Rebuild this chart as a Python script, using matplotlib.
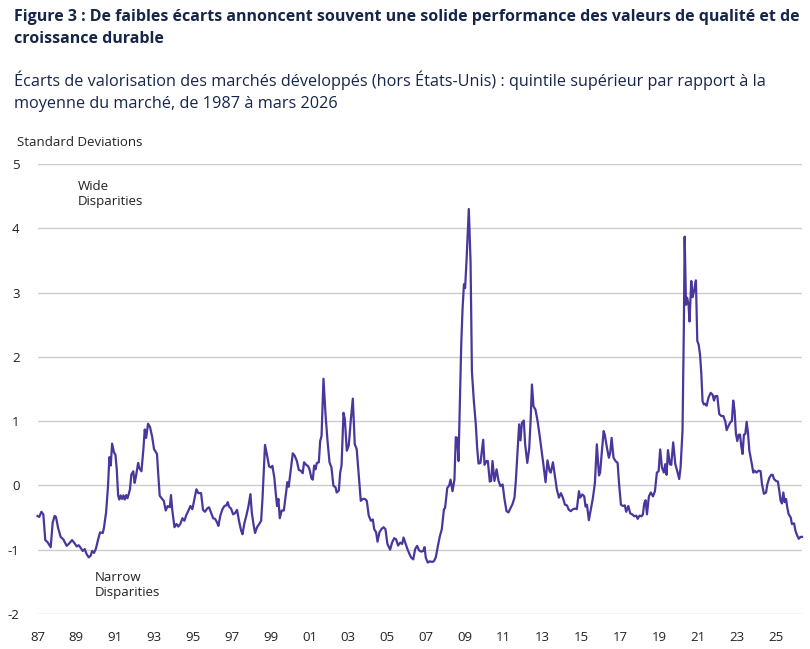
import matplotlib
matplotlib.use("Agg")
import matplotlib.pyplot as plt

plt.rcParams['font.family'] = ['Open Sans', 'DejaVu Sans']

# ---------- DATA -----------------------------------------------------------------------
# decimal year of each observation
years = [
    1987.00, 1987.09, 1987.20, 1987.30, 1987.40, 1987.51, 1987.68, 1987.78, 1987.88, 1987.95,
    1988.06, 1988.19, 1988.33, 1988.40, 1988.50, 1988.64, 1988.78, 1988.91, 1989.02, 1989.12,
    1989.22, 1989.33, 1989.43, 1989.53, 1989.64, 1989.74, 1989.81, 1989.91, 1990.01, 1990.12,
    1990.22, 1990.36, 1990.42, 1990.53, 1990.63, 1990.70, 1990.77, 1990.84, 1990.94, 1991.01,
    1991.08, 1991.15, 1991.21, 1991.28, 1991.35, 1991.42, 1991.49, 1991.56, 1991.63, 1991.69,
    1991.76, 1991.83, 1991.93, 1992.00, 1992.07, 1992.18, 1992.24, 1992.35, 1992.45, 1992.52,
    1992.59, 1992.69, 1992.79, 1992.90, 1993.00, 1993.05, 1993.15, 1993.22, 1993.29, 1993.39,
    1993.50, 1993.60, 1993.70, 1993.81, 1993.87, 1993.94, 1994.05, 1994.15, 1994.25, 1994.35,
    1994.46, 1994.56, 1994.66, 1994.77, 1994.87, 1994.97, 1995.08, 1995.18, 1995.28, 1995.42,
    1995.52, 1995.62, 1995.73, 1995.83, 1995.93, 1996.04, 1996.14, 1996.24, 1996.31, 1996.41,
    1996.52, 1996.62, 1996.72, 1996.79, 1996.86, 1996.96, 1997.07, 1997.17, 1997.27, 1997.38,
    1997.48, 1997.55, 1997.65, 1997.75, 1997.86, 1997.96, 1998.03, 1998.13, 1998.20, 1998.30,
    1998.41, 1998.51, 1998.58, 1998.65, 1998.71, 1998.82, 1998.92, 1999.02, 1999.09, 1999.19,
    1999.26, 1999.33, 1999.40, 1999.47, 1999.57, 1999.68, 1999.76, 1999.86, 1999.93, 2000.04,
    2000.14, 2000.24, 2000.35, 2000.45, 2000.55, 2000.65, 2000.72, 2000.83, 2000.93, 2001.00,
    2001.10, 2001.17, 2001.24, 2001.31, 2001.38, 2001.48, 2001.55, 2001.62, 2001.72, 2001.82,
    2001.92, 2002.03, 2002.13, 2002.23, 2002.34, 2002.40, 2002.51, 2002.58, 2002.65, 2002.75,
    2002.82, 2002.92, 2003.02, 2003.13, 2003.23, 2003.33, 2003.43, 2003.54, 2003.64, 2003.74,
    2003.85, 2003.95, 2004.05, 2004.16, 2004.26, 2004.33, 2004.43, 2004.50, 2004.60, 2004.70,
    2004.81, 2004.91, 2005.01, 2005.15, 2005.25, 2005.36, 2005.46, 2005.56, 2005.67, 2005.77,
    2005.84, 2005.94, 2006.04, 2006.15, 2006.23, 2006.34, 2006.44, 2006.54, 2006.64, 2006.75,
    2006.85, 2006.92, 2006.99, 2007.09, 2007.19, 2007.30, 2007.40, 2007.50, 2007.61, 2007.71,
    2007.81, 2007.92, 2007.98, 2008.09, 2008.19, 2008.26, 2008.36, 2008.46, 2008.53, 2008.60,
    2008.67, 2008.74, 2008.81, 2008.88, 2008.95, 2009.01, 2009.08, 2009.15, 2009.20, 2009.29,
    2009.36, 2009.46, 2009.56, 2009.63, 2009.70, 2009.80, 2009.87, 2009.94, 2010.01, 2010.11,
    2010.18, 2010.28, 2010.35, 2010.42, 2010.52, 2010.63, 2010.73, 2010.83, 2010.94, 2011.04,
    2011.14, 2011.24, 2011.35, 2011.45, 2011.55, 2011.62, 2011.73, 2011.79, 2011.86, 2011.93,
    2012.03, 2012.10, 2012.21, 2012.31, 2012.38, 2012.45, 2012.53, 2012.63, 2012.74, 2012.84,
    2012.94, 2013.05, 2013.15, 2013.25, 2013.36, 2013.42, 2013.53, 2013.63, 2013.73, 2013.84,
    2013.94, 2014.04, 2014.15, 2014.25, 2014.35, 2014.45, 2014.56, 2014.66, 2014.76, 2014.87,
    2014.93, 2015.04, 2015.14, 2015.21, 2015.28, 2015.38, 2015.48, 2015.59, 2015.69, 2015.79,
    2015.90, 2015.96, 2016.03, 2016.14, 2016.20, 2016.31, 2016.41, 2016.48, 2016.55, 2016.65,
    2016.75, 2016.86, 2016.93, 2017.03, 2017.13, 2017.23, 2017.30, 2017.41, 2017.51, 2017.61,
    2017.72, 2017.82, 2017.89, 2017.99, 2018.09, 2018.16, 2018.23, 2018.30, 2018.37, 2018.47,
    2018.57, 2018.68, 2018.78, 2018.88, 2018.97, 2019.05, 2019.14, 2019.24, 2019.31, 2019.38,
    2019.45, 2019.55, 2019.62, 2019.72, 2019.83, 2019.93, 2020.03, 2020.10, 2020.20, 2020.27,
    2020.31, 2020.38, 2020.44, 2020.51, 2020.56, 2020.65, 2020.72, 2020.79, 2020.89, 2020.96,
    2021.03, 2021.10, 2021.17, 2021.23, 2021.30, 2021.37, 2021.44, 2021.54, 2021.65, 2021.75,
    2021.82, 2021.89, 2021.99, 2022.09, 2022.20, 2022.30, 2022.40, 2022.47, 2022.57, 2022.68,
    2022.74, 2022.81, 2022.88, 2022.95, 2023.02, 2023.09, 2023.16, 2023.23, 2023.29, 2023.36,
    2023.43, 2023.50, 2023.57, 2023.64, 2023.71, 2023.77, 2023.84, 2023.91, 2024.01, 2024.12,
    2024.22, 2024.29, 2024.39, 2024.50, 2024.56, 2024.67, 2024.77, 2024.84, 2024.91, 2025.01,
    2025.11, 2025.18, 2025.25, 2025.32, 2025.39, 2025.46, 2025.53, 2025.59, 2025.66, 2025.77,
    2025.83, 2025.94, 2026.01, 2026.07, 2026.18, 2026.28, 2026.35,
]

# valuation spread, in standard deviations
spread = [
    -0.475, -0.49, -0.41, -0.45, -0.85, -0.88, -0.96, -0.58, -0.475, -0.49,
    -0.66, -0.80, -0.84, -0.88, -0.94, -0.90, -0.85, -0.90, -0.95, -0.93,
    -0.97, -1.02, -0.99, -1.07, -1.12, -1.09, -1.02, -1.05, -0.98, -0.84,
    -0.73, -0.74, -0.66, -0.42, -0.01, 0.44, 0.31, 0.65, 0.51, 0.48,
    0.25, -0.155, -0.22, -0.155, -0.21, -0.155, -0.22, -0.15, -0.20, -0.14,
    -0.06, 0.17, 0.22, 0.04, 0.145, 0.35, 0.27, 0.22, 0.56, 0.87,
    0.74, 0.96, 0.91, 0.76, 0.56, 0.54, 0.49, 0.15, -0.16, -0.20,
    -0.24, -0.39, -0.32, -0.34, -0.15, -0.39, -0.65, -0.60, -0.64, -0.60,
    -0.51, -0.55, -0.46, -0.39, -0.32, -0.37, -0.21, -0.06, -0.12, -0.12,
    -0.38, -0.41, -0.36, -0.34, -0.42, -0.51, -0.52, -0.575, -0.63, -0.47,
    -0.37, -0.32, -0.31, -0.26, -0.33, -0.36, -0.45, -0.43, -0.38, -0.565,
    -0.70, -0.76, -0.585, -0.47, -0.32, -0.135, -0.42, -0.63, -0.74, -0.65,
    -0.60, -0.55, -0.21, 0.25, 0.63, 0.46, 0.295, 0.28, 0.305, 0.12,
    -0.11, -0.32, -0.21, -0.51, -0.39, -0.39, -0.19, 0.05, -0.02, 0.25,
    0.50, 0.46, 0.38, 0.24, 0.23, 0.19, 0.36, 0.32, 0.30, 0.25,
    0.11, 0.09, 0.31, 0.25, 0.35, 0.36, 0.69, 0.77, 1.66, 1.13,
    0.72, 0.36, 0.28, -0.005, -0.03, -0.11, -0.08, 0.20, 0.31, 1.13,
    1.03, 0.54, 0.62, 1.03, 1.35, 0.64, 0.565, 0.15, -0.24, -0.21,
    -0.21, -0.24, -0.47, -0.55, -0.53, -0.68, -0.73, -0.875, -0.73, -0.68,
    -0.65, -0.68, -0.91, -1.00, -0.89, -0.82, -0.84, -0.935, -0.89, -0.91,
    -0.81, -0.90, -0.99, -1.07, -1.12, -1.15, -0.99, -0.94, -1.01, -1.03,
    -1.02, -0.96, -1.13, -1.20, -1.18, -1.19, -1.18, -1.12, -0.94, -0.79,
    -0.68, -0.37, -0.35, -0.04, 0.00, 0.09, -0.09, 0.09, 0.75, 0.74,
    0.38, 1.31, 2.19, 2.76, 3.13, 3.07, 3.48, 3.95, 4.30, 3.48,
    1.77, 1.31, 0.95, 0.58, 0.34, 0.35, 0.53, 0.71, 0.32, 0.38,
    0.38, 0.06, 0.07, 0.38, 0.07, 0.25, 0.07, -0.01, 0.015, -0.22,
    -0.40, -0.42, -0.35, -0.29, -0.19, 0.07, 0.64, 0.95, 0.70, 0.97,
    1.01, 0.64, 0.35, 0.58, 1.00, 1.57, 1.23, 1.18, 1.00, 0.79,
    0.56, 0.30, 0.05, 0.39, 0.22, 0.20, 0.36, 0.145, -0.06, -0.19,
    -0.12, -0.19, -0.30, -0.31, -0.38, -0.40, -0.37, -0.36, -0.37, -0.09,
    -0.19, -0.14, -0.17, -0.33, -0.30, -0.54, -0.37, -0.19, 0.04, 0.64,
    0.155, 0.20, 0.46, 0.845, 0.79, 0.585, 0.43, 0.51, 0.74, 0.43,
    0.38, 0.35, 0.04, -0.30, -0.32, -0.31, -0.41, -0.32, -0.435, -0.45,
    -0.48, -0.47, -0.52, -0.47, -0.48, -0.45, -0.28, -0.23, -0.45, -0.17,
    -0.11, -0.17, -0.09, 0.20, 0.22, 0.56, 0.28, 0.20, 0.33, 0.165,
    0.55, 0.33, 0.32, 0.67, 0.33, 0.22, 0.10, 0.28, 0.85, 2.50,
    3.87, 2.81, 2.92, 2.81, 2.55, 3.18, 2.93, 3.02, 3.19, 2.25,
    2.19, 2.04, 1.73, 1.31, 1.26, 1.27, 1.24, 1.37, 1.44, 1.41,
    1.32, 1.39, 1.39, 1.11, 1.08, 1.08, 1.00, 0.86, 0.93, 0.99,
    1.00, 1.32, 1.16, 0.80, 0.69, 0.79, 0.79, 0.60, 0.49, 0.79,
    0.80, 0.99, 0.82, 0.54, 0.43, 0.33, 0.20, 0.23, 0.20, 0.23,
    0.22, 0.02, -0.13, -0.11, 0.01, 0.12, 0.165, 0.165, 0.10, 0.07,
    0.06, -0.08, -0.24, -0.28, -0.11, -0.26, -0.21, -0.34, -0.445, -0.50,
    -0.60, -0.59, -0.70, -0.755, -0.83, -0.80, -0.80,
]

tick_years = list(range(1987, 2026, 2))
tick_labels = [f"{y % 100:02d}" for y in tick_years]
y_ticks = [-2, -1, 0, 1, 2, 3, 4, 5]

title = ("Figure 3 : De faibles écarts annoncent souvent une solide performance des valeurs de qualité et de\n"
         "croissance durable")
subtitle = ("Écarts de valorisation des marchés développés (hors États-Unis) : quintile supérieur par rapport à la\n"
            "moyenne du marché, de 1987 à mars 2026")

# ---------- STYLE ----------------------------------------------------------------------
NAVY = '#16264a'
LINE = '#4b369d'
GRID = '#cccccc'
TEXT = '#222222'

W, H = 810, 649
fig = plt.figure(figsize=(W / 100, H / 100), dpi=100)
ax = fig.add_axes([37.5 / W, 1 - 614 / H, (802 - 37.5) / W, (614 - 164) / H])

ax.plot(years, spread, color=LINE, linewidth=1.6, clip_on=False, zorder=3)

ax.set_xlim(1987.0, 2026.35)
ax.set_ylim(-2, 5)
ax.set_xticks(tick_years)
ax.set_xticklabels(tick_labels)
ax.set_yticks(y_ticks)
ax.set_yticklabels([str(v) for v in y_ticks])
ax.grid(axis='y', color=GRID, linewidth=1.0)
ax.grid(axis='x', visible=False)
ax.set_axisbelow(True)
for s in ax.spines.values():
    s.set_visible(False)
ax.tick_params(axis='both', length=0, labelsize=9.5, colors=TEXT)
ax.tick_params(axis='x', pad=12)
ax.tick_params(axis='y', pad=13)

# annotations
fig.text(17 / W, 1 - 142 / H, "Standard Deviations", fontsize=9.5, color=TEXT, va='center', ha='left')
ax.annotate("Wide\nDisparities", xy=(78 / W, 1 - 194 / H), xycoords='figure fraction',
            fontsize=9.5, color=TEXT, va='center', ha='left', linespacing=1.25)
ax.annotate("Narrow\nDisparities", xy=(95 / W, 1 - 585 / H), xycoords='figure fraction',
            fontsize=9.5, color=TEXT, va='center', ha='left', linespacing=1.25)

# headers
fig.text(14 / W, 1 - 9 / H, title, fontsize=11.5, fontweight='bold', color=NAVY,
         va='top', ha='left', linespacing=1.5)
fig.text(14 / W, 1 - 70 / H, subtitle, fontsize=11.7, color=NAVY,
         va='top', ha='left', linespacing=1.5)

fig.savefig('out.png', dpi=100)
